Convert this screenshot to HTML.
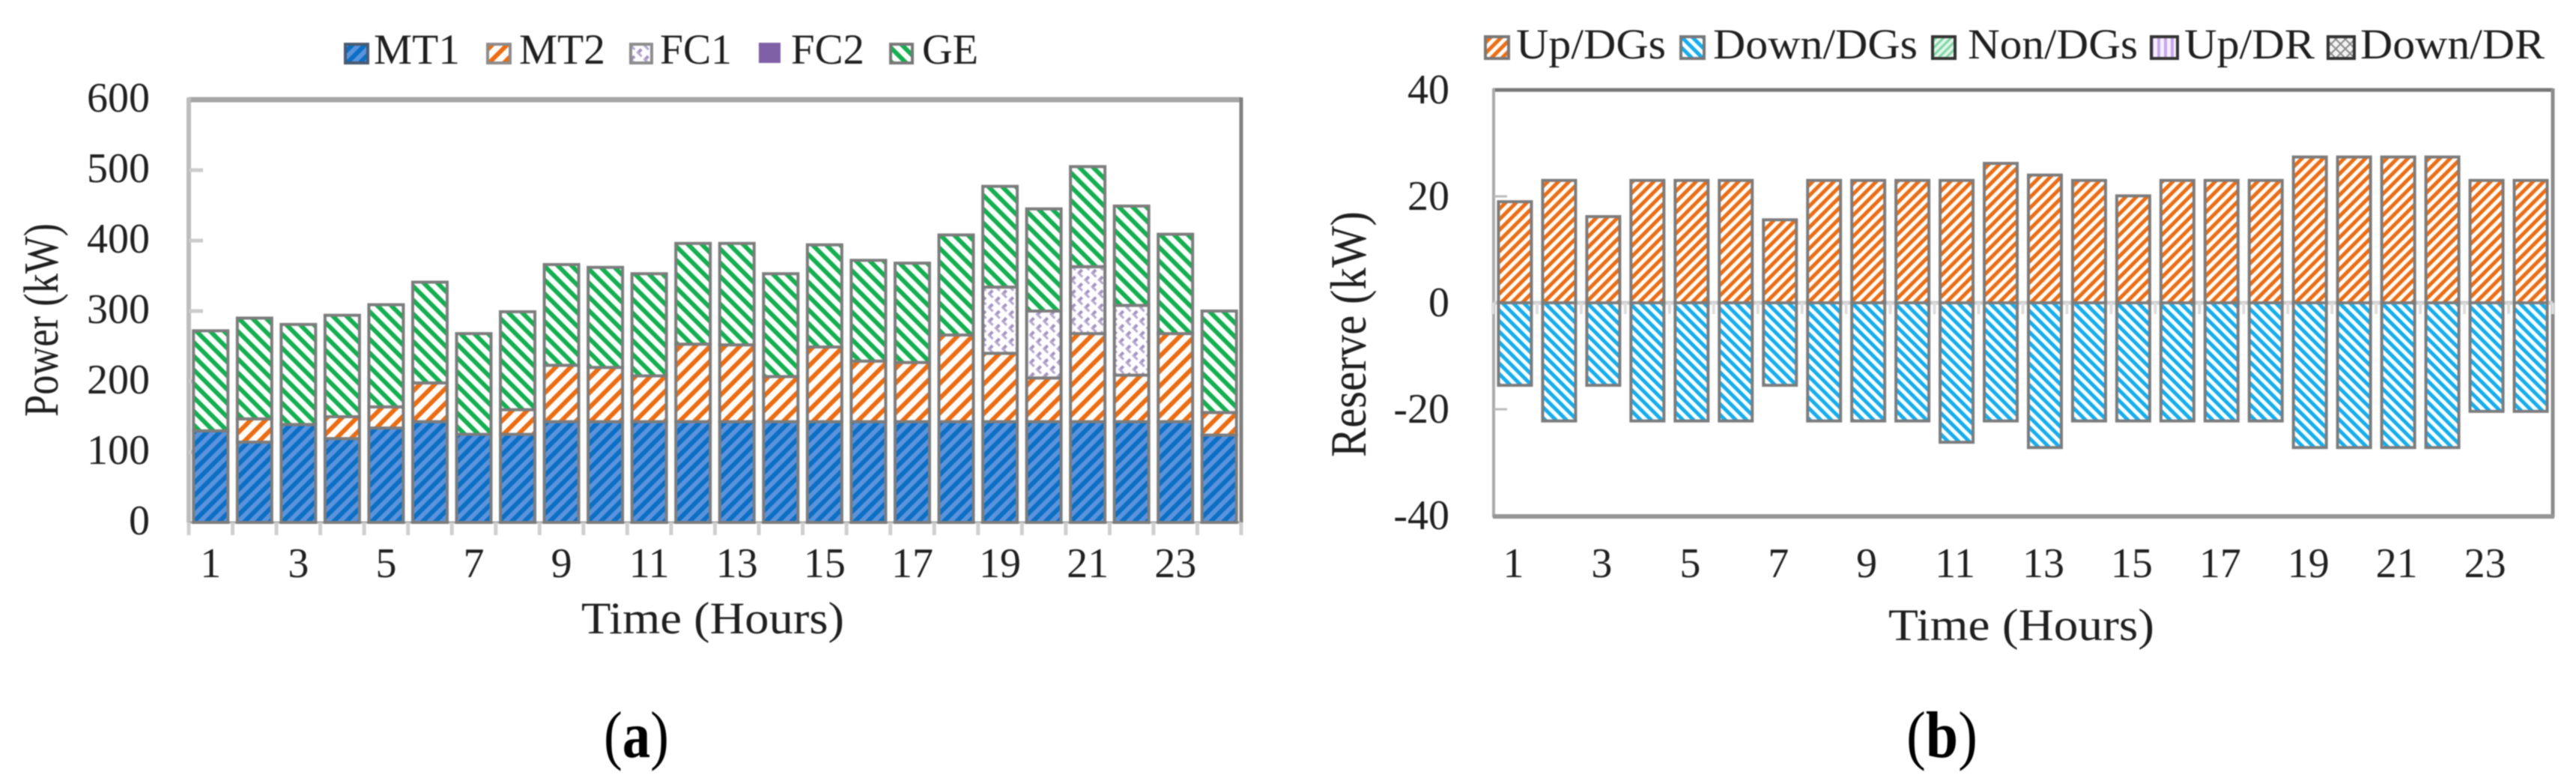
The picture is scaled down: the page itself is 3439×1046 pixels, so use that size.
<!DOCTYPE html>
<html>
<head>
<meta charset="utf-8">
<title>Power and reserve charts</title>
<style>
html,body{margin:0;padding:0;background:#fff;width:3439px;height:1046px;overflow:hidden}
svg{display:block;filter:blur(0.8px)}
text{font-family:"Liberation Serif",serif;fill:#1f1f1f}
</style>
</head>
<body>
<svg id="figure" xmlns="http://www.w3.org/2000/svg" width="3439" height="1046" viewBox="0 0 3439 1046">
<defs>
<pattern id="p-mt1" patternUnits="userSpaceOnUse" width="12" height="12" patternTransform="rotate(45)"><rect width="12" height="12" fill="#5b93dc"/><rect width="6" height="12" fill="#0b6fc4"/></pattern>
<pattern id="p-mt2" patternUnits="userSpaceOnUse" width="14" height="14" patternTransform="rotate(45)"><rect width="14" height="14" fill="#fff"/><rect width="6" height="14" fill="#ee6c10"/></pattern>
<pattern id="p-fc1" patternUnits="userSpaceOnUse" width="13" height="13" patternTransform="rotate(45)"><rect width="13" height="13" fill="#fdfcff"/><rect width="4" height="8" fill="#a292c0"/><rect x="0" y="5" width="9" height="3" fill="#b5a8cf"/></pattern>
<pattern id="p-ge" patternUnits="userSpaceOnUse" width="13" height="13" patternTransform="rotate(-45)"><rect width="13" height="13" fill="#fff"/><rect width="6" height="13" fill="#12b050"/></pattern>
<pattern id="p-up" patternUnits="userSpaceOnUse" width="10" height="10" patternTransform="rotate(45)"><rect width="10" height="10" fill="#fff"/><rect width="5" height="10" fill="#ee6c10"/></pattern>
<pattern id="p-down" patternUnits="userSpaceOnUse" width="10" height="10" patternTransform="rotate(-45)"><rect width="10" height="10" fill="#fff"/><rect width="5" height="10" fill="#12aef0"/></pattern>
<pattern id="p-non" patternUnits="userSpaceOnUse" width="7" height="7" patternTransform="rotate(45)"><rect width="7" height="7" fill="#dff5e8"/><rect width="3" height="7" fill="#7fd6a4"/></pattern>
<pattern id="p-updr" patternUnits="userSpaceOnUse" width="9" height="9"><rect width="9" height="9" fill="#f6f0fc"/><rect width="4" height="9" fill="#c6a6ea"/></pattern>
<pattern id="p-downdr" patternUnits="userSpaceOnUse" width="9" height="9" patternTransform="rotate(45)"><rect width="9" height="9" fill="#f4f4f4"/><rect width="2" height="9" fill="#8a8a8a"/><rect width="9" height="2" fill="#8a8a8a"/></pattern>
</defs>

<g id="chart-a"></g>
<g id="chart-b"></g>

<g>
<rect x="461" y="59" width="30" height="25" fill="url(#p-mt1)" stroke="#4a5a70" stroke-width="4"/>
<text x="499" y="85" font-size="57" textLength="115" lengthAdjust="spacingAndGlyphs">MT1</text>
<rect x="651" y="59" width="30" height="25" fill="url(#p-mt2)" stroke="#8c8c8c" stroke-width="4"/>
<text x="693" y="85" font-size="57" textLength="115" lengthAdjust="spacingAndGlyphs">MT2</text>
<rect x="842" y="59" width="28" height="25" fill="url(#p-fc1)" stroke="#8c8c8c" stroke-width="4"/>
<text x="881" y="85" font-size="57" textLength="96" lengthAdjust="spacingAndGlyphs">FC1</text>
<rect x="1013" y="57" width="29" height="27" fill="#7f60a6"/>
<text x="1056" y="85" font-size="57" textLength="98" lengthAdjust="spacingAndGlyphs">FC2</text>
<rect x="1189" y="59" width="29" height="25" fill="url(#p-ge)" stroke="#777" stroke-width="4"/>
<text x="1231" y="85" font-size="57" textLength="75" lengthAdjust="spacingAndGlyphs">GE</text>
</g>

<g>
<rect x="1983" y="49" width="31" height="29" fill="url(#p-up)" stroke="#777" stroke-width="4"/>
<text x="2024" y="78" font-size="57" textLength="200" lengthAdjust="spacingAndGlyphs">Up/DGs</text>
<rect x="2244" y="49" width="31" height="29" fill="url(#p-down)" stroke="#777" stroke-width="4"/>
<text x="2287" y="78" font-size="57" textLength="273" lengthAdjust="spacingAndGlyphs">Down/DGs</text>
<rect x="2580" y="49" width="30" height="29" fill="url(#p-non)" stroke="#333" stroke-width="4"/>
<text x="2627" y="78" font-size="57" textLength="227" lengthAdjust="spacingAndGlyphs">Non/DGs</text>
<rect x="2872" y="49" width="35" height="29" fill="url(#p-updr)" stroke="#333" stroke-width="4"/>
<text x="2916" y="78" font-size="57" textLength="174" lengthAdjust="spacingAndGlyphs">Up/DR</text>
<rect x="3108" y="49" width="35" height="29" fill="url(#p-downdr)" stroke="#333" stroke-width="4"/>
<text x="3151" y="78" font-size="57" textLength="246" lengthAdjust="spacingAndGlyphs">Down/DR</text>
</g>

<text x="776" y="845" font-size="60" textLength="351" lengthAdjust="spacingAndGlyphs">Time (Hours)</text>
<text x="2521" y="854" font-size="60" textLength="355" lengthAdjust="spacingAndGlyphs">Time (Hours)</text>
<text transform="translate(77,556) rotate(-90)" font-size="66" textLength="258" lengthAdjust="spacingAndGlyphs">Power (kW)</text>
<text transform="translate(1823,610) rotate(-90)" font-size="68" textLength="328" lengthAdjust="spacingAndGlyphs">Reserve (kW)</text>
<text x="806" y="1010" font-size="88" textLength="87" lengthAdjust="spacingAndGlyphs" style="fill:#000">(<tspan font-weight="bold">a</tspan>)</text>
<text x="2545" y="1010" font-size="88" textLength="95" lengthAdjust="spacingAndGlyphs" style="fill:#000">(<tspan font-weight="bold">b</tspan>)</text>
</svg>

<script>
// Power chart data (kW per hour)
var hours = [1,2,3,4,5,6,7,8,9,10,11,12,13,14,15,16,17,18,19,20,21,22,23,24];
var mt1 = [130,114,139,119,134,143,125,125,143,143,143,143,143,143,143,143,143,143,143,143,143,143,143,124];
var mt2 = [0,33,0,31,30,55,0,35,80,77,65,110,109,64,106,86,84,123,97,62,125,66,125,32];
var fc1 = [0,0,0,0,0,0,0,0,0,0,0,0,0,0,0,0,0,0,94,95,95,99,0,0];
var fc2 = [0,0,0,0,0,0,0,0,0,0,0,0,0,0,0,0,0,0,0,0,0,0,0,0];
var ge = [142,143,142,144,145,143,143,139,143,142,145,143,144,146,145,143,141,142,143,145,142,141,141,144];
var powerTicks = [0,100,200,300,400,500,600];
var hourLabels = [1,3,5,7,9,11,13,15,17,19,21,23];

// Reserve chart data (kW per hour)
var upDGs = [19,23,16.2,23,23,23,15.6,23,23,23,23,26.2,24,23,20.1,23,23,23,27.4,27.4,27.4,27.4,23,23];
var downDGs = [-15.5,-22.2,-15.5,-22.2,-22.2,-22.2,-15.5,-22.2,-22.2,-22.2,-26.2,-22.2,-27.2,-22.2,-22.2,-22.2,-22.2,-22.2,-27.2,-27.2,-27.2,-27.2,-20.4,-20.4];
var nonDGs = [0,0,0,0,0,0,0,0,0,0,0,0,0,0,0,0,0,0,0,0,0,0,0,0];
var upDR = [0,0,0,0,0,0,0,0,0,0,0,0,0,0,0,0,0,0,0,0,0,0,0,0];
var downDR = [0,0,0,0,0,0,0,0,0,0,0,0,0,0,0,0,0,0,0,0,0,0,0,0];
var reserveTicks = [-40,-20,0,20,40];

var NS = 'http://www.w3.org/2000/svg';
var chartA = document.getElementById('chart-a');
var chartB = document.getElementById('chart-b');

// Axis functions
function xA(i){ return 252 + (i + 0.5) * (1657 - 252) / hours.length; }
function yA(v){ return 697 - v * (697 - 133) / 600; }
function xB(i){ return 1993 + (i + 0.5) * (3408 - 1993) / hours.length; }
function yB(v){ return 404 - v * (688 - 120) / 80; }

function make(tag, parent){
  var el = document.createElementNS(NS, tag);
  parent.appendChild(el);
  return el;
}
function drawLine(parent, x1, y1, x2, y2, color, width, name){
  var el = make('line', parent);
  el.setAttribute('x1', x1); el.setAttribute('y1', y1);
  el.setAttribute('x2', x2); el.setAttribute('y2', y2);
  el.setAttribute('stroke', color); el.setAttribute('stroke-width', width);
  
  
  return el;
}
function drawLabel(parent, x, y, str, anchor, name){
  var el = make('text', parent);
  el.setAttribute('x', x); el.setAttribute('y', y);
  el.setAttribute('font-size', '56');
  el.setAttribute('text-anchor', anchor);
  el.textContent = str;
  
  
  return el;
}
function drawBar(parent, x, v0, v1, yFn, halfWidth, fill, name){
  var top = Math.min(yFn(v0), yFn(v1));
  var bottom = Math.max(yFn(v0), yFn(v1));
  var el = make('rect', parent);
  el.setAttribute('x', x - halfWidth);
  el.setAttribute('y', top);
  el.setAttribute('width', halfWidth * 2);
  el.setAttribute('height', bottom - top);
  el.setAttribute('fill', fill);
  el.setAttribute('stroke', '#7c7c7c');
  el.setAttribute('stroke-width', '4');
  
  
  return el;
}

// Power chart axes
drawLine(chartA, 252, 133, 1657, 133, '#a6a6a6', 7, 'power-plot-top-border');
drawLine(chartA, 252, 130, 252, 697, '#bdbdbd', 6, 'power-y-axis-line');
drawLine(chartA, 1657, 130, 1657, 697, '#808080', 5, 'power-plot-right-border');
drawLine(chartA, 252, 697, 1657, 697, '#a6a6a6', 3, 'power-x-axis-line');
powerTicks.forEach(function(t){
  if (t > 0 && t < 600) {
    drawLine(chartA, 252, yA(t), 271, yA(t), '#cccccc', 5, 'power-y-tick-' + t);
  }
  drawLabel(chartA, 200, yA(t) + 16, String(t), 'end', 'power-y-tick-label-' + t);
});
for (var ta = 0; ta <= hours.length; ta++) {
  var tickAx = 252 + ta * (1657 - 252) / hours.length;
  drawLine(chartA, tickAx, 697, tickAx, 714, '#cfcfcf', 5, 'power-x-tick');
}
hourLabels.forEach(function(h){
  drawLabel(chartA, xA(h - 1), 770, String(h), 'middle', 'power-x-tick-label-' + h);
});

// Power chart stacked bars
hours.forEach(function(h, i){
  var stack = [
    [mt1[i], 'url(#p-mt1)', 'mt1'],
    [mt2[i], 'url(#p-mt2)', 'mt2'],
    [fc1[i], 'url(#p-fc1)', 'fc1'],
    [fc2[i], '#7f60a6', 'fc2'],
    [ge[i], 'url(#p-ge)', 'ge']
  ];
  var base = 0;
  stack.forEach(function(s){
    if (s[0] > 0) {
      drawBar(chartA, xA(i), base, base + s[0], yA, 23, s[1], 'bar-' + s[2] + '-hour-' + h);
      base += s[0];
    }
  });
});

// Reserve chart axes
drawLine(chartB, 1993, 120, 3408, 120, '#787878', 5, 'reserve-plot-top-border');
drawLine(chartB, 1994, 118, 1994, 690, '#aaaaaa', 4, 'reserve-y-axis-line');
drawLine(chartB, 3408, 118, 3408, 690, '#8c8c8c', 5, 'reserve-plot-right-border');
drawLine(chartB, 1993, 689, 3410, 689, '#959595', 6, 'reserve-plot-bottom-border');
drawLine(chartB, 1994, yB(0), 3408, yB(0), '#cfcfcf', 5, 'reserve-x-axis-line');
reserveTicks.forEach(function(t){
  if (t === 20 || t === -20) {
    drawLine(chartB, 1994, yB(t), 2012, yB(t), '#bbbbbb', 3, 'reserve-y-tick-' + t);
  }
  drawLabel(chartB, 1935, yB(t) + 18, String(t), 'end', 'reserve-y-tick-label-' + t);
});
for (var tb = 0; tb <= hours.length; tb++) {
  var tickBx = 1993 + tb * (3408 - 1993) / hours.length;
  drawLine(chartB, tickBx, yB(0), tickBx, yB(0) + 15, '#dddddd', 4, 'reserve-x-tick');
}
hourLabels.forEach(function(h){
  drawLabel(chartB, xB(h - 1) - 2, 770, String(h), 'middle', 'reserve-x-tick-label-' + h);
});

// Reserve chart bars
hours.forEach(function(h, i){
  var posBase = 0;
  [[upDGs[i], 'url(#p-up)', 'up-dgs'], [nonDGs[i], 'url(#p-non)', 'non-dgs'], [upDR[i], 'url(#p-updr)', 'up-dr']].forEach(function(s){
    if (s[0] > 0) {
      drawBar(chartB, xB(i), posBase, posBase + s[0], yB, 22, s[1], 'bar-' + s[2] + '-hour-' + h);
      posBase += s[0];
    }
  });
  var negBase = 0;
  [[downDGs[i], 'url(#p-down)', 'down-dgs'], [downDR[i], 'url(#p-downdr)', 'down-dr']].forEach(function(s){
    if (s[0] < 0) {
      drawBar(chartB, xB(i), negBase, negBase + s[0], yB, 22, s[1], 'bar-' + s[2] + '-hour-' + h);
      negBase += s[0];
    }
  });
});
</script>
</body>
</html>
